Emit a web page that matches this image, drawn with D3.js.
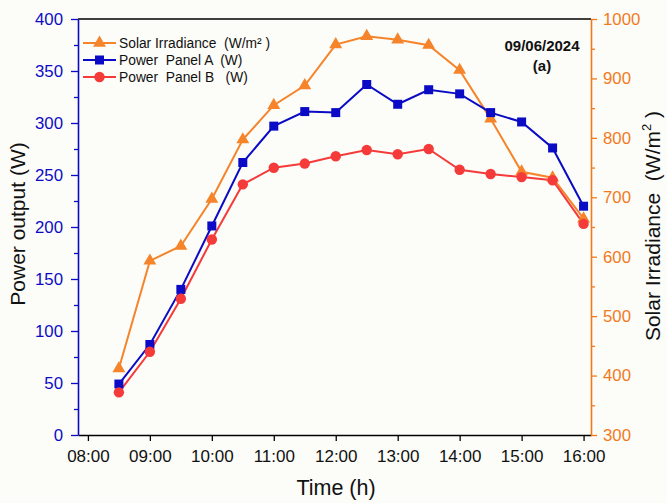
<!DOCTYPE html>
<html>
<head>
<meta charset="utf-8">
<script src="https://cdn.jsdelivr.net/npm/d3@7"></script>
<style>
  html, body { margin: 0; padding: 0; background: #fcfcf8; }
  svg { display: block; font-family: "Liberation Sans", Arial, sans-serif; }
  text { white-space: pre; }
</style>
</head>
<body>
<svg id="chart" width="667" height="503"></svg>
<script>
// Measurement times in hours (08:30 to 16:00, every half hour)
const times = [8.5, 9, 9.5, 10, 10.5, 11, 11.5, 12, 12.5, 13, 13.5, 14, 14.5, 15, 15.5, 16];
// Solar irradiance (W/m²), right axis
const irradiance = [412, 593, 618, 697, 797, 855, 888, 957, 971, 965, 956, 914, 832, 743, 733, 664];
// Power output of the two panels (W), left axis
const panelA = [49, 87, 140, 201, 262, 297, 311, 310, 337, 318, 332, 328, 310, 301, 276, 220];
const panelB = [41, 80, 131, 188, 241, 257, 261, 268, 274, 270, 275, 255, 251, 248, 245, 203];
// Axis ticks
const hourTicks = [8, 9, 10, 11, 12, 13, 14, 15, 16];
const hourLabels = ["08:00", "09:00", "10:00", "11:00", "12:00", "13:00", "14:00", "15:00", "16:00"];
const powerTicks = [0, 50, 100, 150, 200, 250, 300, 350, 400];
const irrTicks = [300, 400, 500, 600, 700, 800, 900, 1000];

const BLUE = "#0b0bc6", RED = "#f53a3a", ORANGE = "#f5842a", ORANGE_AX = "#f27a1c";
const FONT = "Liberation Sans, Arial, sans-serif";

const svg = d3.select("#chart");
const plotLeft = 78, plotRight = 591, plotTop = 19, plotBottom = 435;

const x = d3.scaleLinear().domain([7.84, 16.12]).range([plotLeft, plotRight]);
const yL = d3.scaleLinear().domain([0, 400]).range([plotBottom, plotTop]);
const yR = d3.scaleLinear().domain([300, 1000]).range([plotBottom, plotTop]);

// frame top line
svg.append("line").attr("x1", plotLeft).attr("x2", plotRight).attr("y1", plotTop).attr("y2", plotTop)
  .attr("stroke", "#000").attr("stroke-width", 1.5);

// bottom axis
const gx = svg.append("g").attr("transform", `translate(0,${plotBottom})`)
  .call(d3.axisBottom(x).tickValues(hourTicks).tickFormat((d, i) => hourLabels[i]).tickSize(6).tickPadding(9).tickSizeOuter(0));
gx.select(".domain").attr("stroke", "#000").attr("stroke-width", 1.5);
gx.selectAll(".tick line").attr("stroke", "#000").attr("stroke-width", 1.3);
gx.selectAll(".tick text").attr("fill", "#111").attr("font-size", 17).attr("font-family", FONT);

// left axis (power)
const gl = svg.append("g").attr("transform", `translate(${plotLeft},0)`)
  .call(d3.axisLeft(yL).tickValues(powerTicks).tickSize(7).tickPadding(8).tickSizeOuter(0));
gl.select(".domain").attr("stroke", BLUE).attr("stroke-width", 1.6);
gl.selectAll(".tick line").attr("stroke", BLUE).attr("stroke-width", 1.3);
gl.selectAll(".tick text").attr("fill", BLUE).attr("font-size", 16.8).attr("font-family", FONT);
svg.append("g").attr("transform", `translate(${plotLeft},0)`)
  .call(d3.axisLeft(yL).tickValues(d3.range(25, 400, 50)).tickSize(4).tickFormat(""))
  .call(g => g.select(".domain").remove())
  .selectAll("line").attr("stroke", BLUE).attr("stroke-width", 1.3);

// right axis (irradiance)
const gr = svg.append("g").attr("transform", `translate(${plotRight},0)`)
  .call(d3.axisRight(yR).tickValues(irrTicks).tickFormat(d3.format("d")).tickSize(6).tickPadding(6).tickSizeOuter(0));
gr.select(".domain").attr("stroke", ORANGE_AX).attr("stroke-width", 1.6);
gr.selectAll(".tick line").attr("stroke", ORANGE_AX).attr("stroke-width", 1.3);
gr.selectAll(".tick text").attr("fill", ORANGE_AX).attr("font-size", 16.8).attr("font-family", FONT);
svg.append("g").attr("transform", `translate(${plotRight},0)`)
  .call(d3.axisRight(yR).tickValues(d3.range(350, 1000, 100)).tickSize(4).tickFormat(""))
  .call(g => g.select(".domain").remove())
  .selectAll("line").attr("stroke", ORANGE_AX).attr("stroke-width", 1.3);

// axis titles
svg.append("text").attr("x", 336).attr("y", 495).attr("text-anchor", "middle")
  .attr("font-size", 21.5).attr("fill", "#111").text("Time (h)");
svg.append("text").attr("transform", `translate(25,224) rotate(-90)`)
  .attr("text-anchor", "middle").attr("font-size", 21).attr("fill", "#111").text("Power output (W)");
const rt = svg.append("text").attr("transform", `translate(660,226) rotate(-90)`)
  .attr("text-anchor", "middle").attr("font-size", 21).attr("fill", "#111");
rt.append("tspan").text("Solar Irradiance  (W/m");
rt.append("tspan").attr("font-size", 13).attr("dy", -9).text("2");
rt.append("tspan").attr("dy", 9).text(" )");

// series
const series = [
  { name: "Solar Irradiance  (W/m\u00B2 )", values: irradiance, y: yR, color: ORANGE, marker: d3.symbolTriangle, size: 72 },
  { name: "Power  Panel A  (W)", values: panelA, y: yL, color: BLUE, marker: d3.symbolSquare, size: 81 },
  { name: "Power  Panel B   (W)", values: panelB, y: yL, color: RED, marker: d3.symbolCircle, size: 85 }
];

series.forEach(s => {
  const line = d3.line().x((d, i) => x(times[i])).y(d => s.y(d));
  svg.append("path").datum(s.values).attr("d", line)
    .attr("fill", "none").attr("stroke", s.color).attr("stroke-width", 2);
});
series.forEach(s => {
  svg.append("g").selectAll("path").data(s.values).join("path")
    .attr("transform", (d, i) => `translate(${x(times[i])},${s.y(d)})`)
    .attr("d", d3.symbol().type(s.marker).size(s.size))
    .attr("fill", s.color);
});

// legend
const lg = svg.append("g").attr("transform", "translate(83,43)");
series.forEach((s, i) => {
  const row = lg.append("g").attr("transform", `translate(0,${i * 17})`);
  row.append("line").attr("x1", 0).attr("x2", 33).attr("y1", 0).attr("y2", 0)
    .attr("stroke", s.color).attr("stroke-width", 2);
  row.append("path").attr("transform", "translate(16.5,0)")
    .attr("d", d3.symbol().type(s.marker).size(s.size)).attr("fill", s.color);
  row.append("text").attr("x", 36).attr("y", 5).attr("font-size", 13.8).attr("fill", "#111").text(s.name);
});

// date annotation
svg.append("text").attr("x", 542).attr("y", 51).attr("text-anchor", "middle")
  .attr("font-size", 15).attr("font-weight", "bold").attr("fill", "#111").text("09/06/2024");
svg.append("text").attr("x", 542).attr("y", 71).attr("text-anchor", "middle")
  .attr("font-size", 15).attr("font-weight", "bold").attr("fill", "#111").text("(a)");
</script>
</body>
</html>
